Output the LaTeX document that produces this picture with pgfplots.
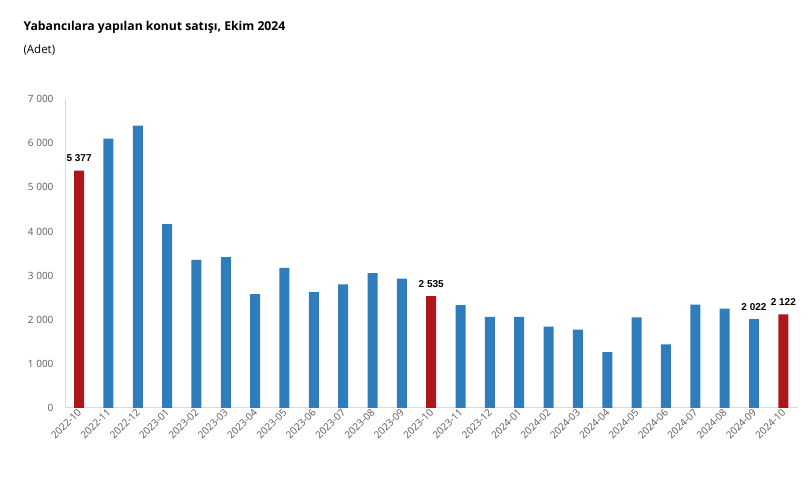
\documentclass[border=0pt]{standalone}
\usepackage{pgfplots}
\pgfplotsset{compat=1.18}
\usepackage{fontspec}
\setmainfont{Open Sans}
\newfontfamily\labelfont{Liberation Sans}
\definecolor{barblue}{HTML}{2F7DBA}
\definecolor{barred}{HTML}{AD171C}
\definecolor{ticktext}{HTML}{595959}
\definecolor{axisline}{HTML}{D9D9D9}

\begin{document}
\begin{tikzpicture}[x=1pt,y=1pt]
\path[use as bounding box] (0,0) rectangle (810,478);
\node[anchor=base west,font=\bfseries\fontsize{12.2}{14}\selectfont] at (20,447) {Yabancılara yapılan konut satışı, Ekim 2024};
\node[anchor=base west,font=\fontsize{11.5}{13}\selectfont] at (20,424) {(Adet)};
\begin{axis}[
    at={(65pt,70pt)},
    anchor=south west,
    scale only axis,
    width=733pt,
    height=309pt,
    ybar,
    bar width=10pt,
    bar shift=0pt,
    xmin=-0.48, xmax=24.5,
    ymin=0, ymax=7000,
    ytick={0,1000,...,7000},
    xtick={0,...,24},
    xticklabels={2022-10,2022-11,2022-12,2023-01,2023-02,2023-03,2023-04,2023-05,2023-06,2023-07,2023-08,2023-09,2023-10,2023-11,2023-12,2024-01,2024-02,2024-03,2024-04,2024-05,2024-06,2024-07,2024-08,2024-09,2024-10},
    axis x line*=bottom,
    axis y line*=left,
    axis line style={axisline, line width=1pt},
    major tick length=0pt,
    tick label style={font=\fontsize{10}{12}\selectfont, text=ticktext},
    /pgf/number format/assume math mode=true,
    /pgf/number format/1000 sep={\ },
    y tick label style={xshift=-8pt},
    x tick label style={rotate=45, anchor=east, xshift=2pt, yshift=-2pt},
    nodes near coords style={font=\labelfont\bfseries\fontsize{10}{12}\selectfont, text=black, yshift=5pt},
]
\addplot[fill=barblue, draw=none] coordinates {
(1,6104) (2,6399) (3,4167) (4,3355) (5,3415) (6,2577) (7,3177) (8,2626)
(9,2802) (10,3057) (11,2930) (13,2332) (14,2067) (15,2063) (16,1845)
(17,1778) (18,1268) (19,2055) (20,1443) (21,2341) (22,2253)};
\addplot[fill=barblue, draw=none, nodes near coords] coordinates {(23,2022)};
\addplot[fill=barred, draw=none, nodes near coords] coordinates {(0,5377) (12,2535) (24,2122)};
\end{axis}
\end{tikzpicture}
\end{document}
